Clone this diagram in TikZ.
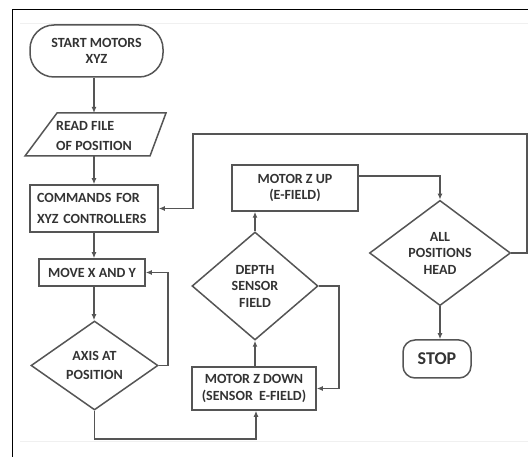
\documentclass[tikz,border=0pt]{standalone}
\usepackage{fontspec}
\setmainfont{Carlito}
\usetikzlibrary{arrows.meta,shapes.geometric,calc}
\definecolor{ln}{HTML}{555555}
\definecolor{tx}{HTML}{333333}
\begin{document}
\begin{tikzpicture}[x=1pt,y=-1pt,
  txt/.style={text=tx, font=\fontsize{14}{16.5}\selectfont\bfseries, inner sep=0pt, align=center},
  base/.style={txt, draw=ln, line width=1.5pt},
  box/.style={base, rectangle},
  term/.style={base, rectangle},
  dec/.style={base, diamond},
  lin/.style={draw=ln, line width=1.5pt},
  arr/.style={lin, -{Latex[length=6pt,width=5pt]}}]
\useasboundingbox (0,0) rectangle (528,457);
\fill[white] (0,0) rectangle (528,457);
% frame
\draw[black, line width=1pt] (12,457) -- (12,10) -- (528,10);
\draw[gray!12, line width=0.8pt] (20,23) -- (528,23) (20,441) -- (528,441);
% nodes
\node[term, minimum width=133pt, minimum height=52pt, rounded corners=24pt] (start) at (96.5,51) {START MOTORS\\XYZ};
\draw[lin] (57,113) coordinate (rtl) -- (166,113) coordinate (rtr) -- (150,156) coordinate (rbr) -- (25,156) coordinate (rbl) -- cycle;
\node[txt, align=left, anchor=west] (readtxt) at (56,136) {READ FILE\\[3pt]OF POSITION};
\node[box, minimum height=47pt, text width=114pt, inner xsep=7pt, align=left] (cmd) at (94,208.5) {COMMANDS FOR\\[4pt]XYZ CONTROLLERS};
\node[box, minimum width=106pt, minimum height=27pt] (move) at (92,272.5) {MOVE X AND Y};
\node[dec, minimum width=127pt, minimum height=89pt] (axis) at (94.5,365.5) {AXIS AT\\[3pt]POSITION};
\node[box, minimum width=124pt, minimum height=43pt] (zdown) at (254,388.5) {MOTOR Z DOWN\\(SENSOR\ \ E-FIELD)};
\node[dec, minimum width=126pt, minimum height=108pt] (depth) at (255,286) {DEPTH\\SENSOR\\FIELD};
\node[box, minimum width=126pt, minimum height=46pt] (zup) at (295,188) {MOTOR Z UP\\(E-FIELD)};
\node[dec, minimum width=141pt, minimum height=101pt] (allpos) at (440,253) {ALL\\POSITIONS\\HEAD};
\node[term, minimum width=68pt, minimum height=38pt, rounded corners=12pt, font=\fontsize{18}{20}\selectfont\bfseries] (stop) at (437,359) {STOP};
% connectors
\draw[arr] ([xshift=-2.5pt]start.south) -- ([xshift=-2.5pt]start.south |- rtl);
\draw[arr] (cmd.north |- rbl) -- (cmd.north);
\draw[arr] (cmd.south) -- (cmd.south |- move.north);
\draw[arr] (cmd.south |- move.south) -- (cmd.south |- axis.north);
\draw[arr] (axis.east) -- ($(axis.east)+(9,0)$) |- (move.east);
\draw[arr] (axis.south) -- ++(0,28) -| ([xshift=2pt]zdown.south);
\draw[arr] (depth.south |- zdown.north) -- (depth.south);
\draw[arr] (depth.east) -- ++(20,0) |- (zdown.east);
\draw[arr] (depth.north) -- (depth.north |- zup.south);
\draw[arr] ([yshift=12pt]zup.east) -| (allpos.north);
\draw[arr] (allpos.east) -| (527,134) -| ($(cmd.east)+(34,0)$) -- (cmd.east);
\draw[arr] (allpos.south) -- (allpos.south |- stop.north);
\end{tikzpicture}
\end{document}
